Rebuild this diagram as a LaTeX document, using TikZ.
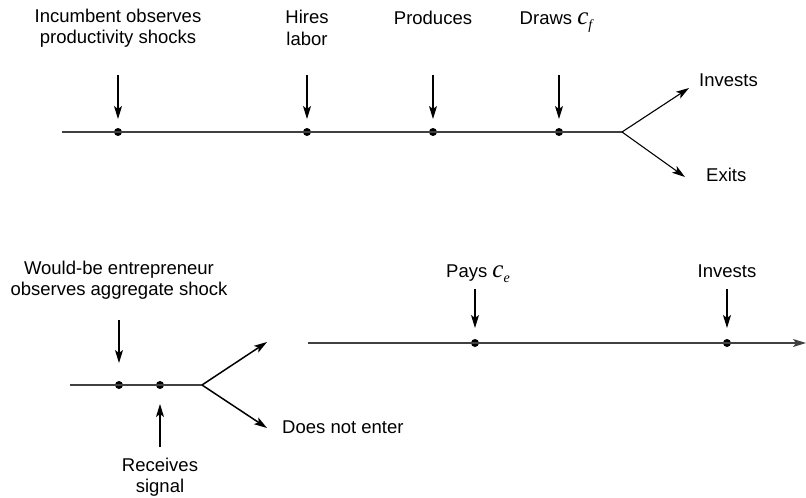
\documentclass[tikz,border=0pt]{standalone}
\usepackage{fontspec}
\setmainfont{Liberation Sans}
\newfontfamily\serifit{Liberation Serif}
\newcommand{\bigc}[1]{{\serifit\itshape\fontsize{25}{25}\selectfont c}\raisebox{-5pt}{\serifit\itshape\fontsize{14}{14}\selectfont #1}}
\usetikzlibrary{arrows.meta}
\begin{document}
\begin{tikzpicture}[x=1pt,y=-1pt,
  tl/.style={draw=black!75,line width=1.4pt},
  tip/.tip={Stealth[length=13pt,width=8pt,inset=3pt]},
  arr/.style={draw=black,line width=1.2pt,-tip},
  dotn/.style={circle,fill=black,inner sep=0pt,minimum size=8pt},
  lab/.style={font=\fontsize{18.5}{21.5}\selectfont,align=center,inner sep=0pt},
]
\useasboundingbox (0,0) rectangle (806,498);
% top timeline
\coordinate (t0) at (62,132);
\coordinate (tb) at (622,132);
\node[dotn] (d1) at (118,132) {};
\node[dotn] (d2) at (307,132) {};
\node[dotn] (d3) at (433,132) {};
\node[dotn] (d4) at (559,132) {};
\draw[tl] (t0) -- (tb);
\coordinate (inv) at (689,88);
\coordinate (ex) at (685,177);
\draw[arr,line width=1.1pt] (tb) -- (inv);
\draw[arr,line width=1.1pt] (tb) -- (ex);
\node[lab,anchor=west] (linv) at (699,80) {Invests};
\node[lab,anchor=west] (lex) at (706,175) {Exits};
\node[lab] (l1) at (118,28) {Incumbent observes\\productivity shocks};
\node[lab] (l2) at (307,28) {Hires\\labor};
\node[lab] (l3) at (433,18) {Produces};
\node[lab,anchor=base] (l4) at (556,24) {Draws \bigc{f}};
\foreach \i/\x in {1/118,2/307,3/433,4/559}{
  \coordinate (a\i) at (\x,75);
  \coordinate (b\i) at (\x,119);
  \draw[arr] (a\i) -- (b\i);
}
% bottom left
\coordinate (b0) at (70,385);
\coordinate (bb) at (202,385);
\node[dotn] (e1) at (119,385) {};
\node[dotn] (e2) at (160,385) {};
\draw[tl] (b0) -- (bb);
\coordinate (ent) at (267,342);
\coordinate (dne) at (267,428);
\draw[arr,line width=1.5pt] (bb) -- (ent);
\draw[arr,line width=1.5pt] (bb) -- (dne);
\node[lab,anchor=west] (ldne) at (282,427) {Does not enter};
\node[lab] (le1) at (119,280) {Would-be entrepreneur\\observes aggregate shock};
\node[lab] (le2) at (160,477) {Receives\\signal};
\coordinate (ae1) at (119,320);
\coordinate (be1) at (119,363);
\draw[arr] (ae1) -- (be1);
\coordinate (ae2) at (160,447);
\coordinate (be2) at (160,404);
\draw[arr] (ae2) -- (be2);
% bottom right
\coordinate (r0) at (308,343);
\coordinate (r1) at (806,343);
\node[dotn] (f1) at (475,343) {};
\node[dotn] (f2) at (727,343) {};
\draw[tl,-tip] (r0) -- (r1);
\node[lab,anchor=base] (lf1) at (478,277) {Pays \bigc{e}};
\node[lab] (lf2) at (727,271) {Invests};
\coordinate (af1) at (475,289);
\coordinate (bf1) at (475,328);
\coordinate (af2) at (727,289);
\coordinate (bf2) at (727,328);
\draw[arr] (af1) -- (bf1);
\draw[arr] (af2) -- (bf2);
\end{tikzpicture}
\end{document}
